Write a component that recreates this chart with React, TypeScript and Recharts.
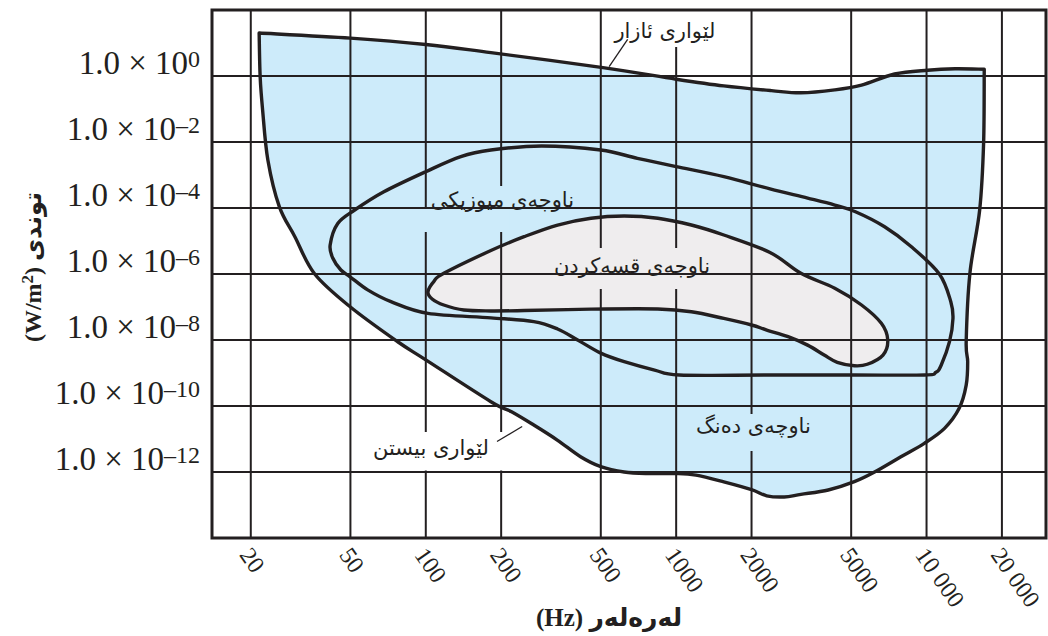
import { ScatterChart, Scatter, XAxis, YAxis, CartesianGrid, ReferenceArea, ReferenceLine } from 'recharts'

const INK = '#231f20'
const BLUE = '#cdebfa'
const GREY = '#efedee'
const SERIF = "'Liberation Serif', 'DejaVu Sans', serif"
const ARABIC = "'DejaVu Sans', sans-serif"

const freqTicks = [20, 50, 100, 200, 500, 1000, 2000, 5000, 10000, 20000]
const freqTickLabels = ['20', '50', '100', '200', '500', '1000', '2000', '5000', '10 000', '20 000']
const intensityTicks = [1, 1e-2, 1e-4, 1e-6, 1e-8, 1e-10, 1e-12]
const intensityExponents = ['0', '–2', '–4', '–6', '–8', '–10', '–12']

// outer region: threshold of pain along the top, threshold of hearing along the bottom.
// a repeated point marks a sharp corner.
const hearingRegion = [
  { f: 21.6, i: 20 }, { f: 21.6, i: 20 },
  { f: 50, i: 14 },
  { f: 100, i: 9 },
  { f: 182, i: 5.1 },
  { f: 510, i: 1.8 },
  { f: 1000, i: 0.8 },
  { f: 1550, i: 0.5 },
  { f: 2400, i: 0.36 },
  { f: 3150, i: 0.31 },
  { f: 4300, i: 0.38 },
  { f: 5500, i: 0.53 },
  { f: 7450, i: 1.15 },
  { f: 10100, i: 1.5 },
  { f: 13000, i: 1.65 },
  { f: 17000, i: 1.6 }, { f: 17000, i: 1.6 },
  { f: 16900, i: 9e-3 },
  { f: 16300, i: 8.7e-5 },
  { f: 14900, i: 1.05e-6 },
  { f: 14400, i: 8.9e-9 },
  { f: 14600, i: 2.2e-9 },
  { f: 14400, i: 4.3e-10 },
  { f: 13500, i: 8.5e-11 },
  { f: 11800, i: 2.1e-11 },
  { f: 9800, i: 7.4e-12 },
  { f: 7900, i: 2.9e-12 },
  { f: 6200, i: 1e-12 },
  { f: 5150, i: 5.1e-13 },
  { f: 4050, i: 2.85e-13 },
  { f: 3150, i: 2.1e-13 },
  { f: 2700, i: 1.75e-13 },
  { f: 2300, i: 1.9e-13 },
  { f: 2000, i: 2.9e-13 },
  { f: 1550, i: 5e-13 },
  { f: 1200, i: 8e-13 },
  { f: 1000, i: 9e-13 },
  { f: 770, i: 9e-13 },
  { f: 620, i: 1e-12 },
  { f: 500, i: 1.45e-12 },
  { f: 415, i: 2.9e-12 },
  { f: 335, i: 9.3e-12 },
  { f: 270, i: 2.65e-11 },
  { f: 220, i: 6.7e-11 },
  { f: 182, i: 1.35e-10 },
  { f: 100, i: 2.5e-9 },
  { f: 77, i: 9e-9 },
  { f: 50, i: 1e-7 },
  { f: 36, i: 1e-6 },
  { f: 30, i: 1.35e-5 },
  { f: 26, i: 1.1e-4 },
  { f: 23.4, i: 2.85e-3 },
  { f: 22.3, i: 0.093 },
  { f: 21.8, i: 0.95 },
]

const musicRegion = [
  { f: 41.5, i: 7.6e-6 },
  { f: 44.5, i: 3.4e-5 },
  { f: 52, i: 8.7e-5 },
  { f: 68, i: 3.1e-4 },
  { f: 100, i: 1.26e-3 },
  { f: 138, i: 3.6e-3 },
  { f: 182, i: 5.7e-3 },
  { f: 290, i: 7.6e-3 },
  { f: 500, i: 5.7e-3 },
  { f: 700, i: 3.2e-3 },
  { f: 1000, i: 1.8e-3 },
  { f: 1550, i: 8.9e-4 },
  { f: 2370, i: 3.8e-4 },
  { f: 3350, i: 2e-4 },
  { f: 4300, i: 1.23e-4 },
  { f: 5200, i: 7.7e-5 },
  { f: 6800, i: 2.7e-5 },
  { f: 8700, i: 6.7e-6 },
  { f: 11250, i: 1e-6 },
  { f: 12500, i: 1.45e-7 },
  { f: 12750, i: 4.5e-8 },
  { f: 12350, i: 8.9e-9 },
  { f: 11450, i: 1.75e-9 },
  { f: 10900, i: 1.05e-9 },
  { f: 9800, i: 8.7e-10 },
  { f: 5150, i: 8.7e-10 },
  { f: 2300, i: 8.7e-10 },
  { f: 1030, i: 8.7e-10 },
  { f: 820, i: 1.23e-9 },
  { f: 620, i: 2.2e-9 },
  { f: 500, i: 4e-9 },
  { f: 404, i: 1e-8 },
  { f: 336, i: 2.15e-8 },
  { f: 270, i: 3.6e-8 },
  { f: 182, i: 4.7e-8 },
  { f: 102, i: 6.4e-8 },
  { f: 72.6, i: 1.45e-7 },
  { f: 58.6, i: 3.3e-7 },
  { f: 50, i: 8.1e-7 },
  { f: 45.8, i: 1.32e-6 },
  { f: 42.5, i: 3.05e-6 },
]

const speechRegion = [
  { f: 102, i: 2.9e-7 },
  { f: 108, i: 6.1e-7 },
  { f: 118, i: 1.05e-6 },
  { f: 182, i: 5.15e-6 },
  { f: 247, i: 1.35e-5 },
  { f: 336, i: 3.05e-5 },
  { f: 457, i: 4.9e-5 },
  { f: 620, i: 5.7e-5 },
  { f: 845, i: 4.9e-5 },
  { f: 1150, i: 3.05e-5 },
  { f: 1550, i: 1.52e-5 },
  { f: 2370, i: 4.5e-6 },
  { f: 3150, i: 1.05e-6 },
  { f: 4300, i: 3.7e-7 },
  { f: 5500, i: 1.15e-7 },
  { f: 6600, i: 3.2e-8 },
  { f: 7000, i: 1e-8 },
  { f: 6700, i: 3.5e-9 },
  { f: 5800, i: 1.84e-9 },
  { f: 5150, i: 1.66e-9 },
  { f: 4400, i: 2.1e-9 },
  { f: 3900, i: 3.5e-9 },
  { f: 3350, i: 7e-9 },
  { f: 2800, i: 1.26e-8 },
  { f: 2300, i: 2e-8 },
  { f: 2000, i: 2.85e-8 },
  { f: 1550, i: 4.5e-8 },
  { f: 1150, i: 7.2e-8 },
  { f: 845, i: 8.7e-8 },
  { f: 457, i: 8.6e-8 },
  { f: 247, i: 7.8e-8 },
  { f: 182, i: 7.6e-8 },
  { f: 142, i: 8.1e-8 },
  { f: 118, i: 1.15e-7 },
  { f: 106, i: 1.75e-7 },
]

// closed Catmull-Rom spline as a d3-style curve factory; repeated points give a corner
const closedSpline = (context: any) => {
  let pts: [number, number][] = []
  return {
    areaStart() {},
    areaEnd() {},
    lineStart() { pts = [] },
    point(x: number, y: number) { pts.push([+x, +y]) },
    lineEnd() {
      const n = pts.length
      if (n < 3) return
      const at = (k: number) => pts[(k + n) % n]
      context.moveTo(pts[0][0], pts[0][1])
      for (let k = 0; k < n; k++) {
        const p0 = at(k - 1), p1 = at(k), p2 = at(k + 1), p3 = at(k + 2)
        if (p1[0] === p2[0] && p1[1] === p2[1]) continue
        context.bezierCurveTo(
          p1[0] + (p2[0] - p0[0]) / 6, p1[1] + (p2[1] - p0[1]) / 6,
          p2[0] - (p3[0] - p1[0]) / 6, p2[1] - (p3[1] - p1[1]) / 6,
          p2[0], p2[1],
        )
      }
      context.closePath()
    },
  }
}

const noDot = () => <g />

const FreqTick = (props: any) => {
  const { x, y, payload } = props
  const label = freqTickLabels[freqTicks.indexOf(payload.value)] ?? String(payload.value)
  const ax = x - 12
  const ay = y + 17
  return (
    <text x={ax} y={ay} transform={`rotate(55 ${ax} ${ay})`} fontFamily={SERIF} fontSize={24} fill={INK}>
      {label}
    </text>
  )
}

const IntensityTick = (props: any) => {
  const { x, y, payload } = props
  const exp = intensityExponents[intensityTicks.indexOf(payload.value)]
  return (
    <text x={x - 12} y={y - 2.5} textAnchor="end" fontFamily={SERIF} fontSize={33} fill={INK}>
      <tspan>1.0 × 10</tspan>
      <tspan fontSize={24} dy={-7}>{exp}</tspan>
    </text>
  )
}

const boxText = (text: string, baseline: number, dx = 0) => (props: any) => {
  const vb = props.viewBox ?? { x: 0, y: 0, width: 0, height: 0 }
  return (
    <text x={vb.x + vb.width / 2 + dx} y={vb.y + baseline} textAnchor="middle" fontFamily={ARABIC} fontSize={21} fill={INK}>
      {text}
    </text>
  )
}

const xTitle = () => (
  <text x={609} y={626} textAnchor="middle" fontFamily={SERIF} fontSize={25} fontWeight="bold" fill={INK}>
    (Hz) لەرەلەر
  </text>
)

const yTitle = () => (
  <text x={41} y={267} transform="rotate(-90 41 267)" textAnchor="middle" fontFamily={SERIF} fontSize={24} fontWeight="bold" fill={INK}>
    <tspan>(W/m</tspan>
    <tspan fontSize={17} dy={-8}>2</tspan>
    <tspan dy={8}>) توندی</tspan>
  </text>
)

export default function App() {
  return (
    <div style={{ position: 'absolute', left: 0, top: 0, width: 1048, height: 636, background: '#fff' }}>
      <ScatterChart width={1048} height={636} margin={{ top: 10, right: 2, bottom: 0, left: 12 }}>
        <XAxis
          type="number"
          dataKey="f"
          scale="log"
          domain={[14, 30000]}
          allowDataOverflow
          ticks={freqTicks}
          interval={0}
          tick={<FreqTick />}
          tickLine={false}
          axisLine={false}
          tickSize={0}
          tickMargin={0}
          height={98}
          label={xTitle}
        />
        <YAxis
          type="number"
          dataKey="i"
          scale="log"
          domain={[1e-14, 100]}
          allowDataOverflow
          ticks={intensityTicks}
          interval={0}
          tick={<IntensityTick />}
          tickLine={false}
          axisLine={false}
          tickSize={0}
          tickMargin={0}
          width={200}
          label={yTitle}
        />
        <Scatter
          data={hearingRegion}
          shape={noDot}
          line={{ stroke: INK, strokeWidth: 3.4, fill: BLUE, strokeLinejoin: 'round' }}
          lineJointType={closedSpline as any}
          isAnimationActive={false}
        />
        <Scatter
          data={musicRegion}
          shape={noDot}
          line={{ stroke: INK, strokeWidth: 3.4, fill: 'none', strokeLinejoin: 'round' }}
          lineJointType={closedSpline as any}
          isAnimationActive={false}
        />
        <Scatter
          data={speechRegion}
          shape={noDot}
          line={{ stroke: INK, strokeWidth: 3.4, fill: GREY, strokeLinejoin: 'round' }}
          lineJointType={closedSpline as any}
          isAnimationActive={false}
        />
        <CartesianGrid stroke={INK} strokeWidth={2} zIndex={650} />

        {/* label backgrounds that break the grid */}
        <ReferenceArea x1={554} x2={1551} y1={7.56} y2={93} fill="#fff" fillOpacity={1} zIndex={700}
          label={boxText('لێواری ئازار', 26.5, -3)} />
        <ReferenceArea x1={97.5} x2={215} y1={1.87e-5} y2={9.33e-5} fill={BLUE} fillOpacity={1} zIndex={700} />
        <ReferenceArea x1={102} x2={401.7} y1={1.11e-4} y2={4.64e-4} fill={BLUE} fillOpacity={1} zIndex={700}
          label={boxText('ناوچەی میوزیکی', 21)} />
        <ReferenceArea x1={331} x2={1340} y1={3.5e-7} y2={9.33e-7} fill={GREY} fillOpacity={1} zIndex={700} />
        <ReferenceArea x1={331} x2={1340} y1={1.1e-6} y2={6.14e-6} fill={GREY} fillOpacity={1} zIndex={700}
          label={boxText('ناوچەی قسەکردن', 25)} />
        <ReferenceArea x1={61.5} x2={203.4} y1={1.11e-12} y2={1.63e-11} fill="#fff" fillOpacity={1} zIndex={700}
          label={boxText('لێواری بیستن', 23, -7)} />
        <ReferenceArea x1={1156} x2={3584} y1={4.33e-12} y2={5.7e-11} fill={BLUE} fillOpacity={1} zIndex={700}
          label={boxText('ناوچەی دەنگ', 19)} />

        {/* leader lines */}
        <ReferenceLine segment={[{ x: 540, y: 1.91 }, { x: 640, y: 12.9 }]} stroke={INK} strokeWidth={1.3} zIndex={750} />
        <ReferenceLine segment={[{ x: 192.5, y: 8.4e-12 }, { x: 242.6, y: 2.4e-11 }]} stroke={INK} strokeWidth={1.3} zIndex={750} />

        {/* frame */}
        <ReferenceArea x1={14} x2={30000} y1={1e-14} y2={100} fill="none" stroke={INK} strokeWidth={3} zIndex={800} />
      </ScatterChart>
    </div>
  )
}
